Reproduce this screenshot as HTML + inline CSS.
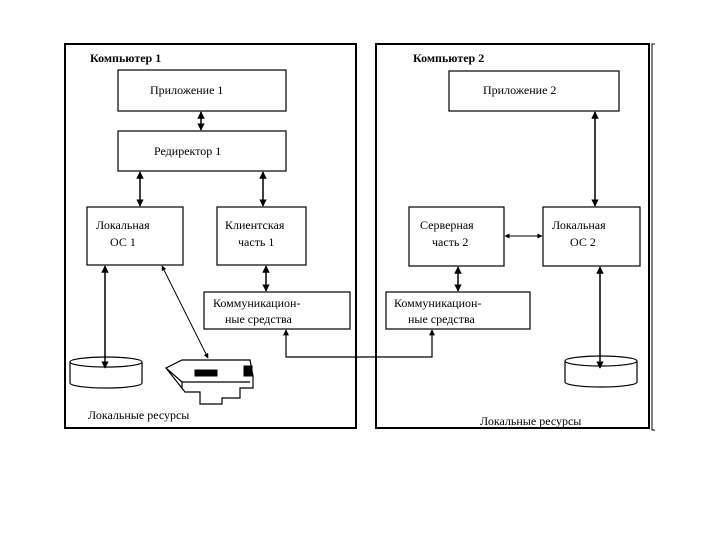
<!DOCTYPE html>
<html><head><meta charset="utf-8"><style>body{margin:0;background:#fff}svg text{font-family:"Liberation Serif",serif;font-size:12px;fill:#000}</style></head><body>
<svg width="720" height="540" viewBox="0 0 720 540" xmlns="http://www.w3.org/2000/svg">
<defs><marker id="a" viewBox="0 0 10 10" refX="9" refY="5" markerWidth="5" markerHeight="5" orient="auto-start-reverse"><path d="M0,0L10,5L0,10z" fill="#000"/></marker></defs>
<g fill="none" stroke="#000">
<rect x="65" y="44" width="291" height="384" stroke-width="2"/>
<rect x="376" y="44" width="273" height="384" stroke-width="2"/>
<path d="M655,44H652V430H655" stroke-width="1"/>
<g stroke-width="1.2" fill="#fff">
<rect x="118" y="70" width="168" height="41"/>
<rect x="118" y="131" width="168" height="40"/>
<rect x="87" y="207" width="96" height="58"/>
<rect x="217" y="207" width="89" height="58"/>
<rect x="204" y="292" width="146" height="37"/>
<rect x="449" y="71" width="170" height="40"/>
<rect x="409" y="207" width="95" height="59"/>
<rect x="543" y="207" width="97" height="59"/>
<rect x="386" y="292" width="144" height="37"/>
<path d="M70,362V383A36,5 0 0 0 142,383V362"/><ellipse cx="106" cy="362" rx="36" ry="5"/>
<path d="M565,361V382A36,5 0 0 0 637,382V361"/><ellipse cx="601" cy="361" rx="36" ry="5"/>
<path d="M166,368L182,360H250L253,376V388H240V398H222V404H200V392H185Z"/>
<path d="M166,368L182,382H250M182,382V388"/>
</g>
<rect x="195" y="370" width="22" height="6" fill="#000"/>
<rect x="244" y="366" width="8" height="10" fill="#000"/>
<g stroke-width="1.5" marker-start="url(#a)" marker-end="url(#a)">
<line x1="201" y1="112" x2="201" y2="130"/>
<line x1="140" y1="172" x2="140" y2="206"/>
<line x1="263" y1="172" x2="263" y2="206"/>
<line x1="266" y1="266" x2="266" y2="291"/>
<line x1="105" y1="266" x2="105" y2="368"/>
<line x1="162" y1="266" x2="208" y2="358" stroke-width="1"/>
<line x1="458" y1="267" x2="458" y2="291"/>
<line x1="505" y1="236" x2="542" y2="236" stroke-width="1"/>
<line x1="595" y1="112" x2="595" y2="206"/>
<line x1="600" y1="267" x2="600" y2="368"/>
</g>
<path d="M286,330V357H432V330" stroke-width="1.2" marker-start="url(#a)" marker-end="url(#a)"/>
</g>
<text x="90" y="62" font-weight="bold">Компьютер 1</text>
<text x="413" y="62" font-weight="bold">Компьютер 2</text>
<text x="150" y="94">Приложение 1</text>
<text x="154" y="155">Редиректор 1</text>
<text x="96" y="229">Локальная</text><text x="110" y="246">ОС 1</text>
<text x="225" y="229">Клиентская</text><text x="238" y="246">часть 1</text>
<text x="213" y="307">Коммуникацион-</text><text x="225" y="323">ные средства</text>
<text x="483" y="94">Приложение 2</text>
<text x="420" y="229">Серверная</text><text x="432" y="246">часть 2</text>
<text x="552" y="229">Локальная</text><text x="570" y="246">ОС 2</text>
<text x="394" y="307">Коммуникацион-</text><text x="408" y="323">ные средства</text>
<text x="88" y="419">Локальные ресурсы</text>
<text x="480" y="425">Локальные ресурсы</text>
</svg>
</body></html>
